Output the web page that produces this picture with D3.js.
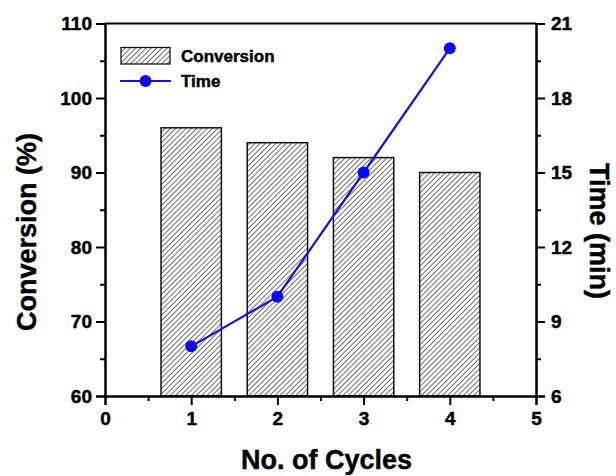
<!DOCTYPE html>
<html>
<head>
<meta charset="utf-8">
<script src="https://cdn.jsdelivr.net/npm/d3@7"></script>
<style>
  html, body { margin: 0; padding: 0; background: #fff; }
  svg text { font-family: "Liberation Sans", Arial, sans-serif; font-weight: 700; fill: #000; stroke: #000; stroke-width: 0.45px; }
</style>
</head>
<body>
<svg id="chart" width="616" height="476"></svg>
<script>
// Recycling study: conversion per cycle (bars) and reaction time (line)
const cycles = [1, 2, 3, 4];
const conversion = [96, 94, 92, 90];
const timeMin = [8, 10, 15, 20];
const xTicks = [0, 1, 2, 3, 4, 5];
const yLeftTicks = [60, 70, 80, 90, 100, 110];
const yRightTicks = [6, 9, 12, 15, 18, 21];

const svg = d3.select("#chart");
const m = { left: 105, right: 536, top: 23.5, bottom: 396 };

const x = d3.scaleLinear().domain([0, 5]).range([m.left, m.right]);
const yL = d3.scaleLinear().domain([60, 110]).range([m.bottom, m.top]);
const yR = d3.scaleLinear().domain([6, 21]).range([m.bottom, m.top]);

// Diagonal hatch fill
const hs = 3.7;
const defs = svg.append("defs");
const pat = defs.append("pattern")
  .attr("id", "hatch")
  .attr("patternUnits", "userSpaceOnUse")
  .attr("width", hs).attr("height", hs)
  .attr("patternTransform", "rotate(45)");
pat.append("rect").attr("width", hs).attr("height", hs).attr("fill", "#fff");
pat.append("line").attr("x1", 0).attr("y1", 0).attr("x2", 0).attr("y2", hs)
  .attr("stroke", "#222").attr("stroke-width", 1.3);

// Bars
const barW = x(0.7) - x(0);
svg.append("g").selectAll("rect").data(cycles).join("rect")
  .attr("x", (d) => x(d) - barW / 2)
  .attr("y", (d, i) => yL(conversion[i]))
  .attr("width", barW)
  .attr("height", (d, i) => yL(60) - yL(conversion[i]))
  .attr("fill", "url(#hatch)")
  .attr("stroke", "#111").attr("stroke-width", 1.5);

// Time line with markers
const lineCol = "#1414d2";
svg.append("path")
  .datum(cycles)
  .attr("d", d3.line().x((d) => x(d)).y((d, i) => yR(timeMin[i])))
  .attr("fill", "none").attr("stroke", lineCol).attr("stroke-width", 2.2);
svg.append("g").selectAll("circle").data(cycles).join("circle")
  .attr("cx", (d) => x(d)).attr("cy", (d, i) => yR(timeMin[i]))
  .attr("r", 6).attr("fill", "#0a0af0");

// Axes
const fmt = d3.format("d");

svg.append("g").attr("transform", `translate(0,${m.bottom})`)
  .call(d3.axisBottom(x).tickValues(xTicks).tickFormat(fmt).tickSize(9).tickPadding(7));
svg.append("g").attr("transform", `translate(0,${m.bottom})`)
  .call(d3.axisBottom(x).tickValues(d3.range(0.5, 5, 1)).tickFormat("").tickSize(5).tickSizeOuter(0));

svg.append("g").attr("transform", `translate(${m.left},0)`)
  .call(d3.axisLeft(yL).tickValues(yLeftTicks).tickFormat(fmt).tickSize(9).tickPadding(4));
svg.append("g").attr("transform", `translate(${m.left},0)`)
  .call(d3.axisLeft(yL).tickValues(d3.range(65, 110, 10)).tickFormat("").tickSize(5).tickSizeOuter(0));

svg.append("g").attr("transform", `translate(${m.right},0)`)
  .call(d3.axisRight(yR).tickValues(yRightTicks).tickFormat(fmt).tickSize(9).tickPadding(6));
svg.append("g").attr("transform", `translate(${m.right},0)`)
  .call(d3.axisRight(yR).tickValues(d3.range(7.5, 21, 3)).tickFormat("").tickSize(5).tickSizeOuter(0));

// Top frame line
svg.append("line")
  .attr("x1", m.left).attr("x2", m.right).attr("y1", m.top).attr("y2", m.top)
  .attr("stroke", "#000").attr("stroke-width", 2);

svg.selectAll(".domain").attr("stroke", "#000").attr("stroke-width", 2);
svg.selectAll(".tick line").attr("stroke", "#000").attr("stroke-width", 2);
svg.selectAll(".tick text")
  .attr("font-family", "'Liberation Sans', Arial, sans-serif")
  .attr("font-weight", "700").attr("font-size", 19)
  .style("font-size", "19px").style("font-weight", "700")
  .attr("fill", "#000");

// Axis titles
svg.append("text")
  .attr("x", (m.left + m.right) / 2 + 6).attr("y", 469)
  .attr("text-anchor", "middle").style("font-size", "27px")
  .text("No. of Cycles");
svg.append("text")
  .attr("transform", "translate(36,232) rotate(-90)")
  .attr("text-anchor", "middle").style("font-size", "27px")
  .text("Conversion (%)");
svg.append("text")
  .attr("transform", "translate(590,231) rotate(90)")
  .attr("text-anchor", "middle").style("font-size", "27px")
  .text("Time (min)");

// Legend
const lg = svg.append("g");
lg.append("rect")
  .attr("x", 121).attr("y", 47.5).attr("width", 49).attr("height", 16.5)
  .attr("fill", "url(#hatch)").attr("stroke", "#111").attr("stroke-width", 1.3);
lg.append("text").attr("x", 181).attr("y", 62).style("font-size", "17px").text("Conversion");
lg.append("line")
  .attr("x1", 120).attr("x2", 171).attr("y1", 81).attr("y2", 81)
  .attr("stroke", lineCol).attr("stroke-width", 2.2);
lg.append("circle").attr("cx", 145.5).attr("cy", 81).attr("r", 6).attr("fill", "#0a0af0");
lg.append("text").attr("x", 181).attr("y", 87).style("font-size", "17px").text("Time");
</script>
</body>
</html>
